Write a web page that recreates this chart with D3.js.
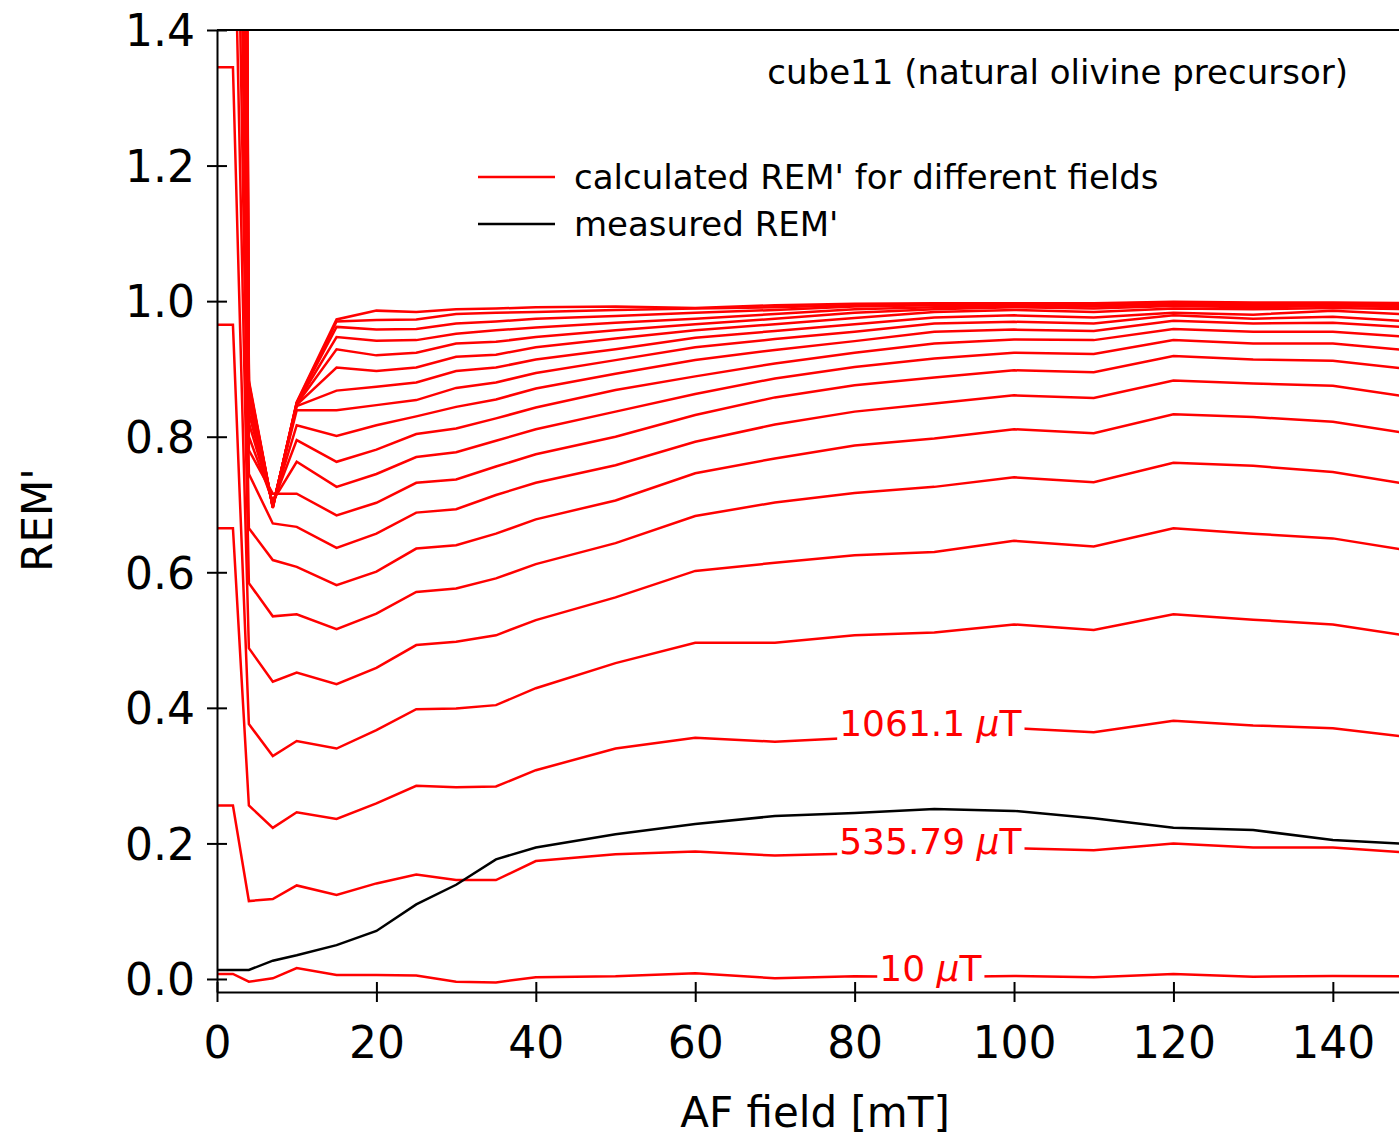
<!DOCTYPE html>
<html>
<head>
<meta charset="utf-8">
<script src="https://cdn.jsdelivr.net/npm/d3@7"></script>
<style>
  body { margin: 0; background: #fff; }
  text { font-family: "Lucida Grande", "DejaVu Sans", sans-serif; }
</style>
</head>
<body>
<svg id="chart" width="1399" height="1137"></svg>
<script>
// AF demagnetisation steps (mT)
const afField = [0, 2, 4, 7, 10, 15, 20, 25, 30, 35, 40, 50, 60, 70, 80, 90, 100, 110, 120, 130, 140, 150];

// calculated REM' curves, lowest field first (one row per field)
const calcRem = [
  [0.0074, 0.0074, -0.004, 0.001, 0.016, 0.006, 0.006, 0.005, -0.004, -0.005, 0.0025, 0.004, 0.0084, 0.001, 0.004, 0.003, 0.0044, 0.0025, 0.0074, 0.0034, 0.0044, 0.004],
  [0.256, 0.256, 0.115, 0.118, 0.138, 0.124, 0.141, 0.154, 0.146, 0.146, 0.174, 0.184, 0.188, 0.182, 0.185, 0.19, 0.193, 0.19, 0.2, 0.194, 0.194, 0.186],
  [0.665, 0.665, 0.256, 0.223, 0.246, 0.236, 0.259, 0.285, 0.283, 0.284, 0.308, 0.34, 0.356, 0.35, 0.356, 0.365, 0.37, 0.364, 0.381, 0.374, 0.37, 0.356],
  [0.965, 0.965, 0.376, 0.329, 0.351, 0.34, 0.367, 0.398, 0.399, 0.404, 0.429, 0.466, 0.496, 0.496, 0.507, 0.511, 0.523, 0.515, 0.538, 0.53, 0.523, 0.505],
  [1.345, 1.345, 0.488, 0.4385, 0.452, 0.435, 0.459, 0.4926, 0.4975, 0.507, 0.5295, 0.563, 0.602, 0.614, 0.625, 0.63, 0.6465, 0.638, 0.665, 0.657, 0.65, 0.631],
  [1.69, 1.69, 0.584, 0.535, 0.538, 0.516, 0.539, 0.571, 0.576, 0.591, 0.612, 0.643, 0.683, 0.703, 0.717, 0.726, 0.74, 0.733, 0.7615, 0.757, 0.748, 0.729],
  [2.03, 2.03, 0.665, 0.618, 0.608, 0.581, 0.601, 0.635, 0.64, 0.657, 0.678, 0.706, 0.746, 0.768, 0.787, 0.7975, 0.811, 0.805, 0.833, 0.829, 0.822, 0.804],
  [2.36, 2.36, 0.745, 0.672, 0.667, 0.636, 0.657, 0.688, 0.693, 0.714, 0.732, 0.758, 0.7925, 0.818, 0.837, 0.849, 0.861, 0.857, 0.883, 0.8785, 0.875, 0.858],
  [2.7, 2.7, 0.78, 0.716, 0.716, 0.684, 0.7025, 0.732, 0.737, 0.756, 0.774, 0.8, 0.832, 0.858, 0.876, 0.8875, 0.898, 0.895, 0.919, 0.914, 0.912, 0.899],
  [3.04, 3.04, 0.8, 0.705, 0.763, 0.726, 0.745, 0.77, 0.777, 0.794, 0.811, 0.837, 0.863, 0.886, 0.903, 0.9155, 0.924, 0.922, 0.9425, 0.9375, 0.9375, 0.927],
  [3.37, 3.37, 0.82, 0.702, 0.795, 0.763, 0.781, 0.804, 0.812, 0.827, 0.843, 0.869, 0.889, 0.908, 0.924, 0.9375, 0.9435, 0.9425, 0.959, 0.955, 0.955, 0.947],
  [3.71, 3.71, 0.835, 0.7, 0.817, 0.801, 0.817, 0.83, 0.844, 0.855, 0.871, 0.893, 0.913, 0.928, 0.941, 0.955, 0.958, 0.956, 0.971, 0.967, 0.968, 0.961],
  [4.05, 4.05, 0.848, 0.699, 0.839, 0.839, 0.8466, 0.854, 0.872, 0.88, 0.894, 0.913, 0.932, 0.944, 0.955, 0.967, 0.9695, 0.967, 0.979, 0.974, 0.977, 0.97],
  [4.38, 4.38, 0.858, 0.698, 0.845, 0.868, 0.8736, 0.88, 0.897, 0.902, 0.914, 0.929, 0.946, 0.956, 0.966, 0.976, 0.979, 0.976, 0.983, 0.98, 0.986, 0.98],
  [4.72, 4.72, 0.865, 0.697, 0.847, 0.902, 0.897, 0.902, 0.918, 0.921, 0.932, 0.945, 0.957, 0.966, 0.975, 0.984, 0.987, 0.984, 0.989, 0.988, 0.99, 0.988],
  [5.06, 5.06, 0.87, 0.697, 0.848, 0.929, 0.92, 0.924, 0.9375, 0.94, 0.947, 0.957, 0.966, 0.974, 0.983, 0.988, 0.991, 0.989, 0.993, 0.991, 0.993, 0.991],
  [5.39, 5.39, 0.874, 0.696, 0.849, 0.947, 0.9415, 0.9425, 0.952, 0.957, 0.961, 0.968, 0.974, 0.981, 0.988, 0.991, 0.993, 0.992, 0.995, 0.993, 0.995, 0.993],
  [5.73, 5.73, 0.877, 0.696, 0.85, 0.962, 0.958, 0.959, 0.967, 0.97, 0.974, 0.978, 0.983, 0.987, 0.992, 0.994, 0.995, 0.994, 0.997, 0.995, 0.996, 0.995],
  [6.07, 6.07, 0.88, 0.695, 0.85, 0.97, 0.972, 0.973, 0.981, 0.983, 0.984, 0.987, 0.989, 0.991, 0.994, 0.996, 0.996, 0.996, 0.998, 0.997, 0.997, 0.996],
  [6.4, 6.4, 0.883, 0.695, 0.851, 0.973, 0.986, 0.984, 0.988, 0.989, 0.991, 0.992, 0.99, 0.994, 0.996, 0.997, 0.997, 0.997, 0.999, 0.998, 0.998, 0.997]
];

// measured REM'
const measuredRem = [0.0133, 0.0133, 0.0133, 0.027, 0.035, 0.05, 0.0708, 0.11, 0.139, 0.1765, 0.194, 0.2134, 0.2286, 0.2404, 0.245, 0.2507, 0.248, 0.237, 0.223, 0.2198, 0.205, 0.199];

// field tags on the three lowest curves (µT)
const tagCurves = [0, 1, 2];
const tagTexts = ["10", "535.79", "1061.1"];
const tagAt = 89.5; // mT

const xTicks = [0, 20, 40, 60, 80, 100, 120, 140];
const yTicks = [0, 0.2, 0.4, 0.6, 0.8, 1.0, 1.2, 1.4];

//////////////////////////////////////////////////////////////////////

let svg = d3.select("#chart"),
    width = +svg.attr("width"),
    height = +svg.attr("height");

const plotLeft = 217, plotTop = 30, plotBottom = 992;

let x = d3.scaleLinear().domain([0, 148.3]).range([plotLeft, width]);
let y = d3.scaleLinear().domain([-0.0192, 1.4]).range([plotBottom, plotTop]);

svg.append("defs").append("clipPath").attr("id", "plot")
    .append("rect")
    .attr("x", plotLeft).attr("y", plotTop)
    .attr("width", width - plotLeft).attr("height", plotBottom - plotTop);

let line = d3.line()
    .x(function(d, i) { return x(afField[i]); })
    .y(function(d) { return y(d); });

let plot = svg.append("g").attr("clip-path", "url(#plot)");

// calculated curves
plot.append("g")
    .selectAll("path")
    .data(calcRem)
    .enter().append("path")
    .attr("d", line)
    .attr("fill", "none")
    .attr("stroke", "#ff0000")
    .attr("stroke-width", 2.5)
    .attr("stroke-linejoin", "miter");

// measured curve
plot.append("path")
    .datum(measuredRem)
    .attr("d", line)
    .attr("fill", "none")
    .attr("stroke", "#000")
    .attr("stroke-width", 2.5);

// tags with a white box that hides the line behind them
const tagIdx = afField.indexOf(90);
tagCurves.forEach(function(c, k) {
    let g = plot.append("g");
    let t = g.append("text")
        .attr("x", x(tagAt))
        .attr("y", y(calcRem[c][tagIdx]) + 4)
        .attr("text-anchor", "middle")
        .attr("font-size", 36)
        .attr("fill", "#ff0000");
    t.append("tspan").text(tagTexts[k] + " ");
    t.append("tspan").attr("font-style", "italic").text("µ");
    t.append("tspan").text("T");
    let bb = t.node().getBBox();
    g.insert("rect", "text")
        .attr("x", bb.x - 2).attr("y", bb.y)
        .attr("width", bb.width + 4).attr("height", bb.height)
        .attr("fill", "#fff");
});

// axes
let xAxis = svg.append("g")
    .attr("transform", "translate(0," + plotBottom + ")")
    .call(d3.axisBottom(x).tickValues(xTicks).tickSizeOuter(0).tickFormat(d3.format("d")));
xAxis.select(".domain").attr("stroke-width", 2);
xAxis.selectAll(".tick line").attr("y1", -10).attr("y2", 10).attr("stroke-width", 2);
xAxis.selectAll(".tick text")
    .attr("y", 66).attr("dy", 0)
    .attr("font-size", 44)
    .attr("fill", "#000");

let yAxis = svg.append("g")
    .attr("transform", "translate(" + plotLeft + ",0)")
    .call(d3.axisLeft(y).tickValues(yTicks).tickSizeOuter(0).tickFormat(d3.format(".1f")));
yAxis.select(".domain").attr("stroke-width", 2);
yAxis.selectAll(".tick line").attr("x1", -10).attr("x2", 10).attr("stroke-width", 2);
yAxis.selectAll(".tick text")
    .attr("x", -22).attr("dy", "0.36em")
    .attr("font-size", 44)
    .attr("fill", "#000");

// top frame
svg.append("line")
    .attr("x1", plotLeft).attr("x2", width)
    .attr("y1", y(1.4)).attr("y2", y(1.4))
    .attr("stroke", "#000").attr("stroke-width", 2);

// axis titles
svg.append("text")
    .attr("x", 815).attr("y", 1127)
    .attr("text-anchor", "middle")
    .attr("font-size", 42)
    .text("AF field [mT]");

svg.append("text")
    .attr("transform", "translate(52,520) rotate(-90)")
    .attr("text-anchor", "middle")
    .attr("font-size", 42)
    .text("REM'");

// sample name
svg.append("text")
    .attr("x", 1348).attr("y", 84)
    .attr("text-anchor", "end")
    .attr("font-size", 34)
    .text("cube11 (natural olivine precursor)");

// legend
const legend = [
    {label: "calculated REM' for different fields", color: "#ff0000"},
    {label: "measured REM'", color: "#000"}
];
let lg = svg.append("g").selectAll("g")
    .data(legend)
    .enter().append("g")
    .attr("transform", function(d, i) { return "translate(478," + (177 + i * 47) + ")"; });
lg.append("line")
    .attr("x1", 0).attr("x2", 77)
    .attr("stroke", function(d) { return d.color; })
    .attr("stroke-width", 2.5);
lg.append("text")
    .attr("x", 96).attr("dy", "0.36em")
    .attr("font-size", 34)
    .text(function(d) { return d.label; });
</script>
</body>
</html>
